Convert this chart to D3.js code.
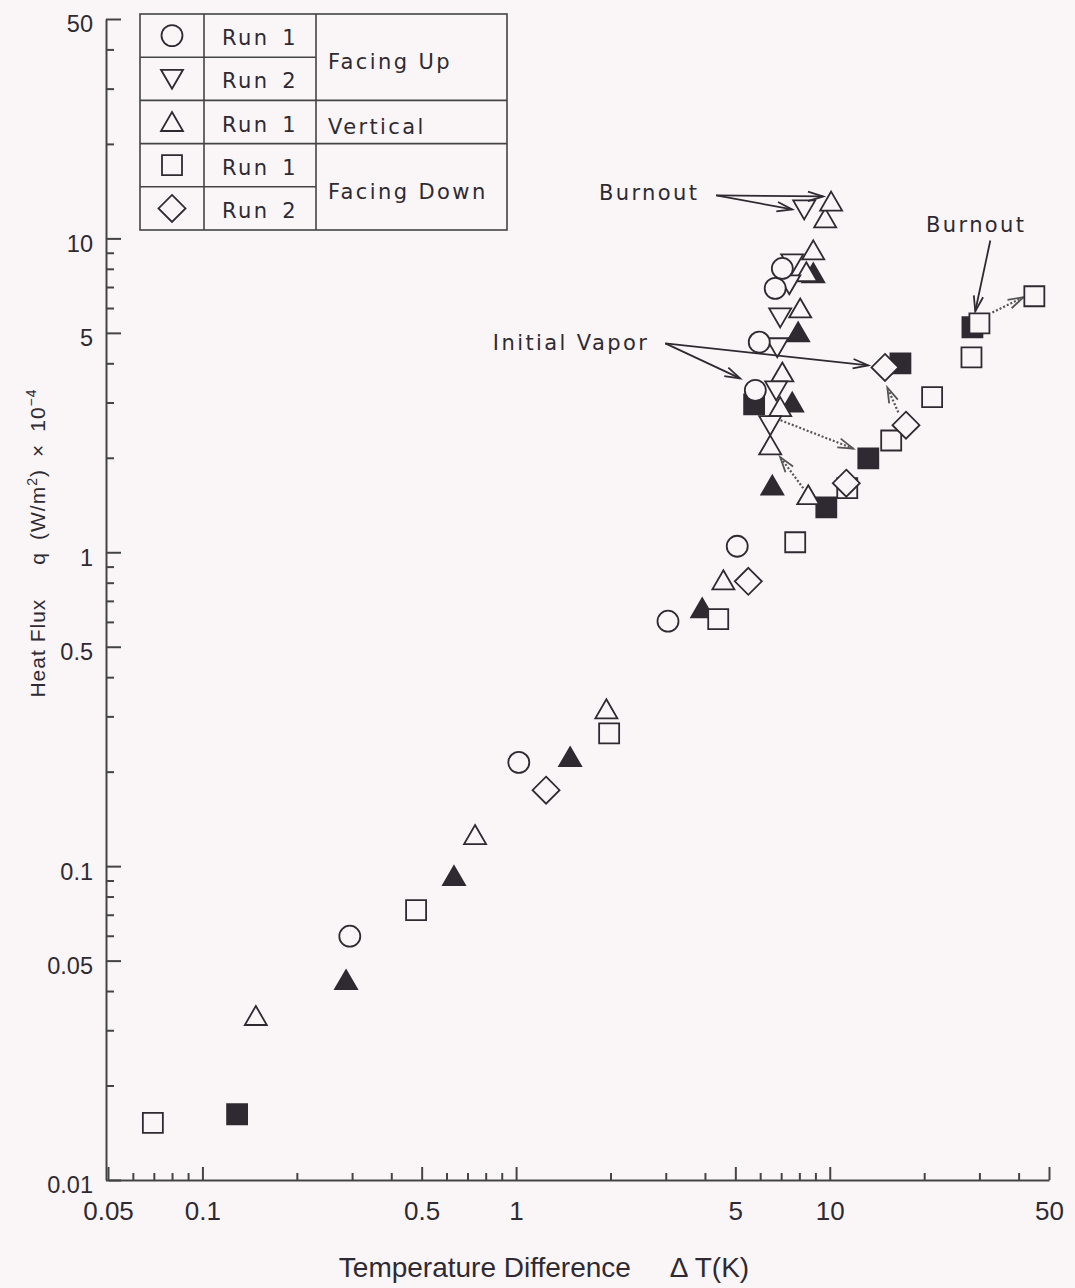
<!DOCTYPE html>
<html>
<head>
<meta charset="utf-8">
<script src="https://cdnjs.cloudflare.com/ajax/libs/d3/7.8.5/d3.min.js"></script>
<style>
  body { margin: 0; background: #faf6f8; }
  .ylab text { font-family: "Liberation Sans", Arial, sans-serif; font-size: 23.5px; fill: #2f2a31; }
  .xlab text { font-family: "Liberation Sans", Arial, sans-serif; font-size: 26px; fill: #2f2a31; }
  .note { font-family: "DejaVu Sans", sans-serif; font-size: 21px; letter-spacing: 2.4px; fill: #2f2a31; }
</style>
</head>
<body>
<div id="chart-area"></div>
<script>
var width = 1075, height = 1288;
var bg = "#faf6f8", ink = "#2f2a31";

// [deltaT (K), q x 10^-4 (W/m2)]
var upRun1 = [[0.295,0.0598],[1.02,0.214],[3.05,0.603],[5.07,1.045],[5.79,3.28],[5.96,4.67],[6.70,6.93],[7.06,8.02]];
var upRun2 = [[6.46,2.54],[6.75,3.28],[6.80,4.5],[6.95,5.6],[7.43,7.14],[7.59,8.33],[8.29,12.37]];
var vertRun1 = [[0.148,0.0333],[0.74,0.1256],[1.94,0.316],[4.58,0.814],[6.46,2.19],[6.95,2.9],[7.06,3.74],
                [8.05,5.98],[8.42,7.8],[8.86,9.16],[9.67,11.58],[10.1,13.1],[8.54,1.52]];
var vertFilled = [[0.287,0.0433],[0.634,0.0929],[1.487,0.2224],[3.92,0.663],[6.56,1.63],[7.59,3.0],[7.93,5.02],[8.86,7.74]];
var downRun1 = [[0.0695,0.0152],[0.48,0.0724],[1.98,0.265],[4.41,0.612],[7.76,1.076],[11.37,1.6],[15.7,2.27],
                [21.2,3.12],[28.3,4.18],[30.0,5.36],[44.9,6.54]];
var downFilled = [[0.129,0.0162],[5.74,2.96],[9.75,1.39],[13.27,1.99],[16.8,4.0],[28.5,5.21]];
var downRun2 = [[1.246,0.1746],[5.50,0.808],[11.29,1.66],[15.0,3.88],[17.5,2.54]];

var xMajor = [0.05,0.1,0.5,1,5,10,50];
var xMinor = [0.06,0.07,0.08,0.09,0.2,0.3,0.4,0.6,0.7,0.8,0.9,2,3,4,6,7,8,9,20,30,40];
var yMajor = [0.01,0.05,0.1,0.5,1,5,10,50];
var yMinor = [0.02,0.03,0.04,0.06,0.07,0.08,0.09,0.2,0.3,0.4,0.6,0.7,0.8,0.9,2,3,4,6,7,8,9,20,30,40];

var legendRows = [
  { shape: "circle", run: "Run 1" },
  { shape: "triDown", run: "Run 2" },
  { shape: "triUp", run: "Run 1" },
  { shape: "square", run: "Run 1" },
  { shape: "diamond", run: "Run 2" }
];
var legendGroups = [
  { label: "Facing Up", first: 0, last: 1 },
  { label: "Vertical", first: 2, last: 2 },
  { label: "Facing Down", first: 3, last: 4 }
];

// annotations, in data units
var labels = [
  { text: "Burnout", at: [2.656,14.01] },
  { text: "Burnout", at: [29.3,11.08] },
  { text: "Initial Vapor", at: [1.497,4.67] }
];
var solidArrows = [
  [[4.345,13.71],[9.53,13.6]],
  [[4.345,13.71],[7.59,12.37]],
  [[32.5,9.85],[29.1,5.86]],
  [[2.99,4.63],[5.18,3.58]],
  [[2.99,4.63],[13.27,3.94]]
];
var dottedArrows = [
  [[6.6,2.69],[11.88,2.14]],
  [[8.23,1.6],[6.95,2.01]],
  [[16.54,2.79],[15.26,3.35]],
  [[33.0,5.81],[41.4,6.49]]
];

var svg = d3.select("#chart-area").append("svg")
    .attr("width", width)
    .attr("height", height);

svg.append("rect").attr("width", width).attr("height", height).attr("fill", bg);

var x = d3.scaleLog().domain([0.05, 50]).range([108, 1049]);
var y = d3.scaleLog().domain([0.01, 50]).range([1180, 19]);

// marker shapes centred on 0,0
function shapePath(type) {
  switch (type) {
    case "circle": return "M10.5,0A10.5,10.5 0 1 1 -10.5,0A10.5,10.5 0 1 1 10.5,0Z";
    case "square": return "M-10,-10H10V10H-10Z";
    case "triUp": return "M0,-10L11,9L-11,9Z";
    case "triDown": return "M0,10L11,-9L-11,-9Z";
    case "diamond": return "M0,-13.5L13.5,0L0,13.5L-13.5,0Z";
  }
}

// Axes
var yAxis = svg.append("g").attr("class", "ylab").attr("transform", "translate(106,0)");
yAxis.call(d3.axisLeft(y).tickValues(yMajor).tickSize(-15).tickSizeOuter(0).tickPadding(13)
    .tickFormat(function(d){ return String(d); }));
yAxis.selectAll("text").attr("dy", "0.55em");
var yMinorG = svg.append("g").attr("transform", "translate(106,0)")
    .call(d3.axisLeft(y).tickValues(yMinor).tickSize(-8).tickFormat(""));
yMinorG.select(".domain").remove();

var xAxis = svg.append("g").attr("class", "xlab").attr("transform", "translate(0,1180)");
xAxis.call(d3.axisBottom(x).tickValues(xMajor).tickSize(-13).tickSizeOuter(0).tickPadding(22)
    .tickFormat(function(d){ return String(d); }));
var xMinorG = svg.append("g").attr("transform", "translate(0,1180)")
    .call(d3.axisBottom(x).tickValues(xMinor).tickSize(-7).tickFormat(""));
xMinorG.select(".domain").remove();

svg.selectAll(".domain, .tick line").attr("stroke", "#444").attr("stroke-width", 2);

// axis titles
svg.append("text")
    .attr("x", 544).attr("y", 1277)
    .attr("text-anchor", "middle")
    .style("font-family", "'Liberation Sans', Arial, sans-serif")
    .style("font-size", "28px")
    .attr("fill", ink)
    .attr("xml:space", "preserve")
    .text("Temperature Difference     \u0394 T(K)");

var yt = svg.append("text")
    .attr("transform", "translate(45,543) rotate(-90)")
    .attr("text-anchor", "middle")
    .style("font-family", "'Liberation Sans', Arial, sans-serif")
    .style("font-size", "21px")
    .style("letter-spacing", "1px")
    .attr("fill", ink);
yt.append("tspan").text("Heat Flux");
yt.append("tspan").attr("dx", 34).text("q");
yt.append("tspan").attr("dx", 12).text("(W/m");
yt.append("tspan").attr("dy", -8).style("font-size", "14px").text("2");
yt.append("tspan").attr("dy", 8).text(")");
yt.append("tspan").attr("dx", 12).text("\u00d7");
yt.append("tspan").attr("dx", 12).text("10");
yt.append("tspan").attr("dy", -9).style("font-size", "14px").text("\u22124");

// arrows
function drawArrow(a, dotted) {
  var x1 = x(a[0][0]), y1 = y(a[0][1]), x2 = x(a[1][0]), y2 = y(a[1][1]);
  var ang = Math.atan2(y2 - y1, x2 - x1), L = 16, h = 0.3;
  var g = svg.append("g").attr("stroke", dotted ? "#555" : ink).attr("fill", "none");
  g.append("line")
      .attr("x1", x1).attr("y1", y1).attr("x2", x2).attr("y2", y2)
      .attr("stroke-width", dotted ? 2.2 : 1.8)
      .attr("stroke-dasharray", dotted ? "2,2" : null);
  g.append("path")
      .attr("stroke-width", 1.8)
      .attr("d", "M" + (x2 - L * Math.cos(ang - h)) + "," + (y2 - L * Math.sin(ang - h)) +
                 "L" + x2 + "," + y2 +
                 "L" + (x2 - L * Math.cos(ang + h)) + "," + (y2 - L * Math.sin(ang + h)));
}
dottedArrows.forEach(function(a){ drawArrow(a, true); });

// markers
var series = [
  { data: vertFilled, shape: "triUp", fill: ink },
  { data: downFilled, shape: "square", fill: ink },
  { data: downRun1, shape: "square", fill: bg },
  { data: vertRun1, shape: "triUp", fill: bg },
  { data: upRun2, shape: "triDown", fill: bg },
  { data: upRun1, shape: "circle", fill: bg },
  { data: downRun2, shape: "diamond", fill: bg }
];
series.forEach(function(s) {
  svg.append("g").selectAll("path")
    .data(s.data)
    .enter().append("path")
      .attr("transform", function(d){ return "translate(" + x(d[0]) + "," + y(d[1]) + ")"; })
      .attr("d", shapePath(s.shape))
      .attr("fill", s.fill)
      .attr("stroke", ink)
      .attr("stroke-width", 1.8);
});

solidArrows.forEach(function(a){ drawArrow(a, false); });

labels.forEach(function(l) {
  svg.append("text")
      .attr("class", "note")
      .attr("x", x(l.at[0])).attr("y", y(l.at[1]))
      .attr("dy", "0.36em")
      .attr("text-anchor", "middle")
      .text(l.text);
});

// legend table
var legend = svg.append("g").attr("class", "legend");
var lx = 140, lw = 367, ly = 14, rowH = 43.2, c1 = 204, c2 = 316;
legend.append("rect")
    .attr("x", lx).attr("y", ly).attr("width", lw).attr("height", rowH * 5)
    .attr("fill", bg).attr("stroke", "#444").attr("stroke-width", 1.6);
[c1, c2].forEach(function(cx) {
  legend.append("line").attr("x1", cx).attr("x2", cx).attr("y1", ly).attr("y2", ly + rowH * 5)
      .attr("stroke", "#444").attr("stroke-width", 1.6);
});
legendRows.forEach(function(r, i) {
  if (i > 0) {
    var full = legendGroups.some(function(g){ return g.first === i; });
    legend.append("line")
        .attr("x1", lx).attr("x2", full ? lx + lw : c2)
        .attr("y1", ly + rowH * i).attr("y2", ly + rowH * i)
        .attr("stroke", "#444").attr("stroke-width", 1.6);
  }
  var cy = ly + rowH * (i + 0.5);
  legend.append("path")
      .attr("transform", "translate(172," + cy + ")")
      .attr("d", shapePath(r.shape))
      .attr("fill", "none").attr("stroke", ink).attr("stroke-width", 1.8);
  legend.append("text").attr("class", "note")
      .attr("x", 222).attr("y", cy).attr("dy", "0.46em")
      .attr("xml:space", "preserve")
      .text(r.run.replace(" ", "\u2002"));
});
legendGroups.forEach(function(g) {
  legend.append("text").attr("class", "note")
      .attr("x", 328).attr("y", ly + rowH * (g.first + g.last + 1) / 2 + 3).attr("dy", "0.42em")
      .text(g.label);
});
</script>
</body>
</html>
